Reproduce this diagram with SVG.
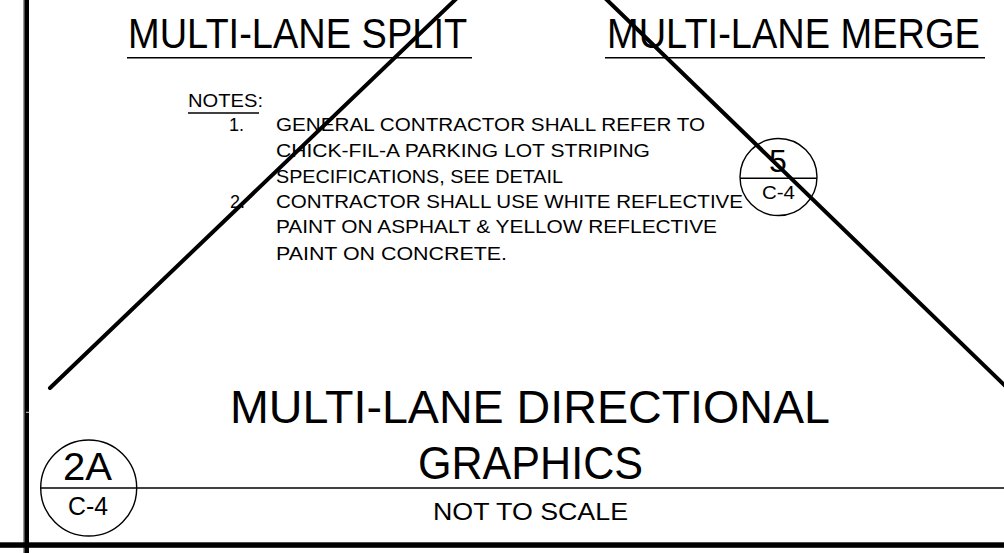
<svg xmlns="http://www.w3.org/2000/svg" width="1004" height="553" viewBox="0 0 1004 553">
<style>
text{font-family:"Liberation Sans",Arial,sans-serif;fill:#000}
.thin{stroke:#000;stroke-width:1.4;fill:none}
.diag{stroke:#000;stroke-width:4;stroke-linecap:round;fill:none}
.ul{stroke:#000;stroke-width:1.6}
.head{font-size:38px}
</style>
<rect width="1004" height="553" fill="#fff"/>
<g id="border">
<line x1="23.5" y1="0" x2="23.5" y2="553" stroke="#999" stroke-width="1"/>
<rect x="24.3" y="0" width="4.7" height="553" fill="#000"/>
<rect x="0" y="542.3" width="1004" height="5.5" fill="#000"/>
<line x1="26" y1="412.3" x2="29.3" y2="412.3" stroke="#ccc" stroke-width="1"/>
</g>
<g id="title-split">
<text class="head" transform="translate(128,48) scale(1,1.1)" x="0" y="0">MULTI-LANE SPLIT</text>
<line class="ul" x1="127" y1="57.7" x2="472" y2="57.7"/>
</g>
<g id="title-merge">
<text class="head" transform="translate(607,48) scale(1,1.1)" x="0" y="0">MULTI-LANE MERGE</text>
<line class="ul" x1="605" y1="57.7" x2="985" y2="57.7"/>
</g>
<g id="notes" font-size="18">
<text x="188" y="106.5" textLength="75" lengthAdjust="spacingAndGlyphs">NOTES:</text>
<line stroke="#000" stroke-width="1.3" x1="188" y1="113" x2="259" y2="113"/>
<text x="229" y="131">1.</text>
<text x="276" y="131" textLength="429" lengthAdjust="spacingAndGlyphs">GENERAL CONTRACTOR SHALL REFER TO</text>
<text x="276" y="156.7" textLength="374" lengthAdjust="spacingAndGlyphs">CHICK-FIL-A PARKING LOT STRIPING</text>
<text x="276" y="183" textLength="287" lengthAdjust="spacingAndGlyphs">SPECIFICATIONS, SEE DETAIL</text>
<text x="230" y="208.3">2.</text>
<text x="276" y="208.3" textLength="467" lengthAdjust="spacingAndGlyphs">CONTRACTOR SHALL USE WHITE REFLECTIVE</text>
<text x="276" y="233.3" textLength="441" lengthAdjust="spacingAndGlyphs">PAINT ON ASPHALT &amp; YELLOW REFLECTIVE</text>
<text x="276" y="260" textLength="231" lengthAdjust="spacingAndGlyphs">PAINT ON CONCRETE.</text>
</g>
<g id="callout-5">
<circle class="thin" cx="778.5" cy="177" r="38.5"/>
<line class="thin" x1="740" y1="178.3" x2="817" y2="178.3"/>
<text x="778" y="172" font-size="32" text-anchor="middle">5</text>
<text x="778.5" y="199.3" font-size="19" text-anchor="middle" textLength="33" lengthAdjust="spacingAndGlyphs">C-4</text>
</g>
<g id="main-title">
<text x="530" y="423.3" font-size="46" text-anchor="middle" textLength="600" lengthAdjust="spacingAndGlyphs">MULTI-LANE DIRECTIONAL</text>
<text x="530.5" y="479" font-size="46" text-anchor="middle" textLength="225" lengthAdjust="spacingAndGlyphs">GRAPHICS</text>
<line class="thin" x1="41" y1="488" x2="1004" y2="488"/>
<text x="530.5" y="520" font-size="24" text-anchor="middle" textLength="195" lengthAdjust="spacingAndGlyphs">NOT TO SCALE</text>
</g>
<g id="callout-2A">
<circle class="thin" cx="88.7" cy="488" r="48"/>
<text x="87.5" y="480" font-size="39" text-anchor="middle" textLength="49" lengthAdjust="spacingAndGlyphs">2A</text>
<text x="88" y="515" font-size="25" text-anchor="middle" textLength="40" lengthAdjust="spacingAndGlyphs">C-4</text>
</g>
<g id="connectors">
<line class="diag" x1="460.2" y1="-5" x2="50" y2="388"/>
<line class="diag" x1="602.9" y1="-4" x2="1007.4" y2="388"/>
</g>
</svg>
